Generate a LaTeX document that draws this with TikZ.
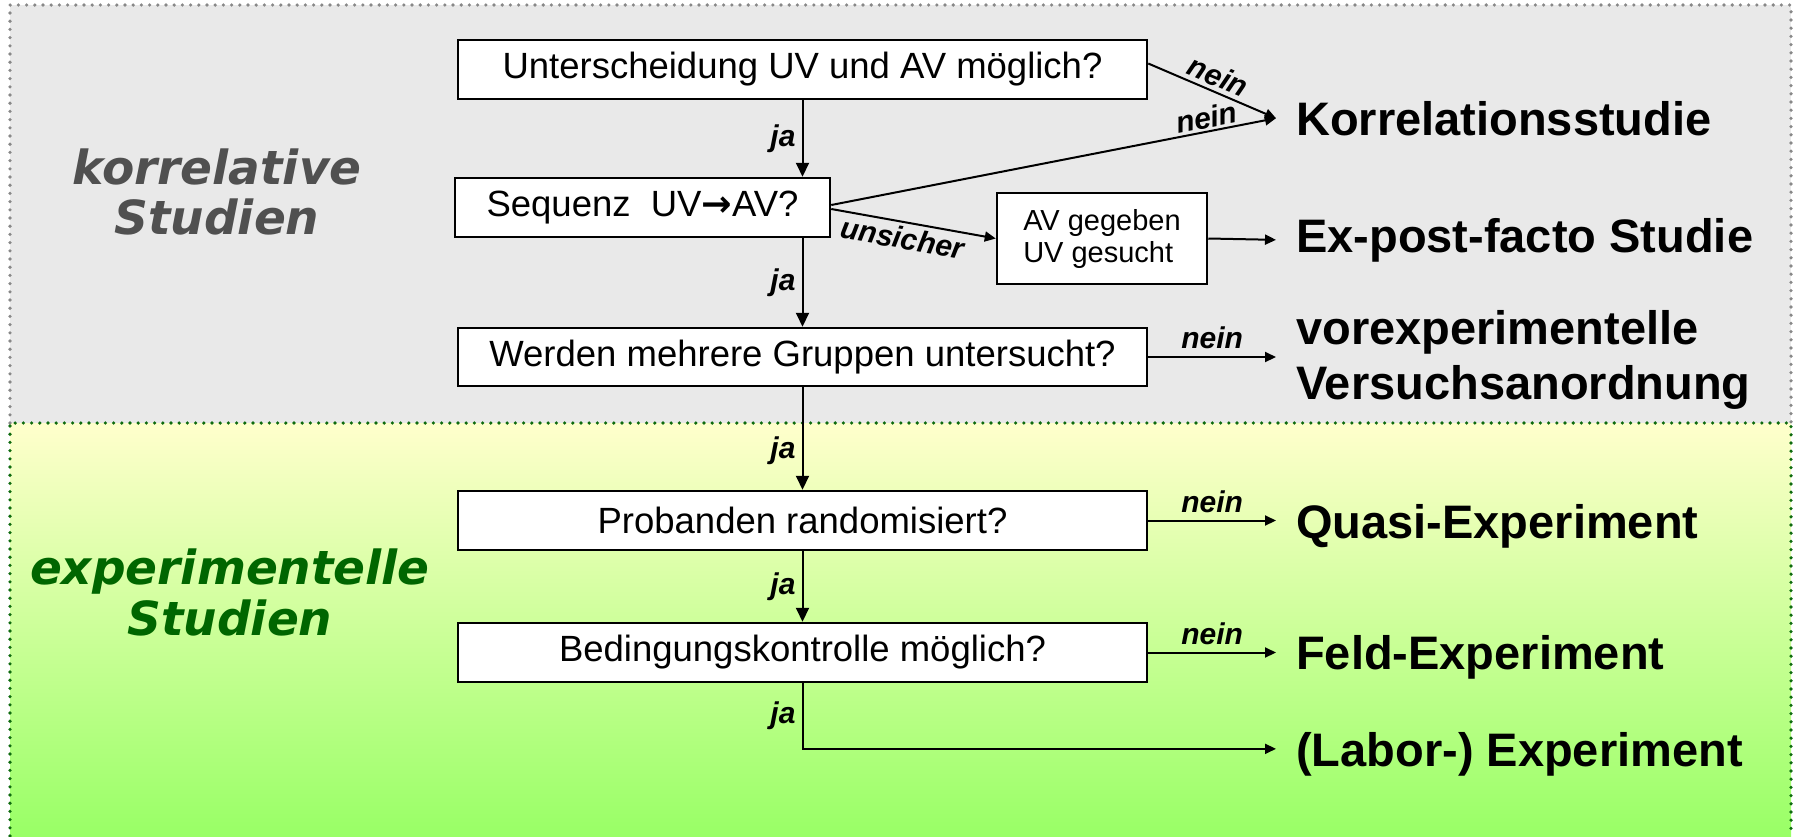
\documentclass[tikz,border=0pt]{standalone}
\usepackage{fontspec}
\setmainfont{Liberation Sans}
\newfontfamily\titlefont{DejaVu Sans}
\usetikzlibrary{arrows.meta,positioning,calc}

\definecolor{graybg}{HTML}{E9E9E9}
\definecolor{graydot}{HTML}{888888}
\definecolor{greendot}{HTML}{0E6B0E}
\definecolor{titlegray}{HTML}{505050}
\definecolor{titlegreen}{HTML}{006600}
\definecolor{yellowtop}{HTML}{FFFFCC}
\definecolor{greenbottom}{HTML}{99FF66}

\begin{document}
\begin{tikzpicture}[x=1pt,y=-1pt,
  dotline/.style={line width=3.6pt, line cap=round, dash pattern=on 0pt off 8.2pt},
  box/.style={draw, line width=2.5pt, fill=white, inner sep=0pt,
    font=\fontsize{36.5}{40}\selectfont},
  conn/.style={line width=2pt, -{Triangle[length=14pt,width=13pt]}},
  connS/.style={line width=2pt, -{Triangle[length=11pt,width=10pt]}},
  lab/.style={font=\fontsize{30}{32}\selectfont\bfseries\itshape, inner sep=2pt},
  outc/.style={font=\fontsize{47}{55}\selectfont\bfseries, inner xsep=20pt,
    inner ysep=0pt, anchor=base west, align=left},
  side/.style={font=\titlefont\fontsize{47}{50}\selectfont\bfseries\itshape,
    align=center, inner sep=0pt}
]
\useasboundingbox (0,0) rectangle (1794,836);
\fill[white] (0,0) rectangle (1794,836);

% regions
\fill[graybg] (10,5) rectangle (1791,423);
\shade[top color=yellowtop, bottom color=greenbottom] (10,423) rectangle (1791,836);
\draw[graydot, dotline] (10,423) -- (10,5) -- (1791,5) -- (1791,423);
\draw[greendot, dotline] (10,836) -- (10,423) -- (1791,423) -- (1791,836);

% side titles
\node[side, text=titlegray] (korr) at (217,192) {korrelative\\Studien};
\node[side, text=titlegreen, font=\titlefont\fontsize{47}{51}\selectfont\bfseries\itshape] (expt) at (230,592) {experimentelle\\Studien};

% boxes
\node[box, minimum width=689pt, minimum height=59pt] (box1) at (802.5,69.5) {Unterscheidung UV und AV möglich?};
\node[box, minimum width=375pt, minimum height=59pt] (box2) at (642.5,207.5) {Sequenz\ \ UV{\titlefont\bfseries →}AV?};
\node[box, minimum width=210pt, minimum height=91pt, align=left,
  font=\fontsize{29}{32}\selectfont] (box3) at (1102,238.5) {AV gegeben\\UV gesucht};
\node[box, minimum width=689pt, minimum height=58pt] (box4) at (802.5,357) {Werden mehrere Gruppen untersucht?};
\node[box, minimum width=689pt, minimum height=59pt] (box5) at (802.5,520.5) {Probanden randomisiert?};
\node[box, minimum width=689pt, minimum height=59pt] (box6) at (802.5,652.5) {Bedingungskontrolle möglich?};

% outcomes
\node[outc] (o1) at (1276,135) {Korrelationsstudie};
\node[outc] (o2) at (1276,252) {Ex-post-facto Studie};
\node[outc, anchor=west] (o3) at (1276,360) {vorexperimentelle\\Versuchsanordnung};
\node[outc] (o4) at (1276,538) {Quasi-Experiment};
\node[outc] (o5) at (1276,669) {Feld-Experiment};
\node[outc] (o6) at (1276,766) {(Labor-) Experiment};

% connectors
\draw[conn] (box1.south) -- (box1.south |- box2.north) node[lab, midway, left=4pt] {ja};
\draw[connS] ([yshift=6pt]box1.east) -- (o1.west) node[lab, midway, above=2pt, sloped] {nein};
\draw[connS] ([yshift=2.5pt]box2.east) -- (o1.west) node[lab, pos=0.85, above, sloped] {nein};
\draw[connS] ([yshift=-1.5pt]box2.east) -- (box3.west) node[lab, pos=0.45, below=2pt, sloped] {unsicher};
\draw[connS] (box3.east) -- (o2.west);
\draw[conn] (box1.south |- box2.south) -- (box1.south |- box4.north) node[lab, midway, left=4pt] {ja};
\draw[connS] (box4.east) -- (box4.east -| o3.west) node[lab, midway, above=5pt] {nein};
\draw[conn] (box4.south) -- (box5.north) node[lab, pos=0.62, left=4pt] {ja};
\draw[connS] (box5.east) -- (box5.east -| o4.west) node[lab, midway, above=5pt] {nein};
\draw[conn] (box5.south) -- (box6.north) node[lab, midway, left=4pt] {ja};
\draw[connS] (box6.east) -- (box6.east -| o5.west) node[lab, midway, above=5pt] {nein};
\draw[connS] (box6.south) |- ([yshift=5pt]o6.west) node[lab, pos=0.25, left=4pt] {ja};
\end{tikzpicture}
\end{document}
